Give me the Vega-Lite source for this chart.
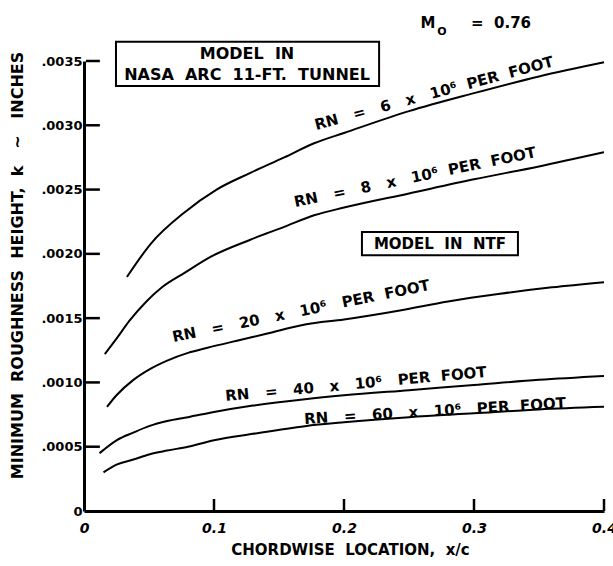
{
  "$schema": "https://vega.github.io/schema/vega-lite/v6.json",
  "width": 520,
  "height": 450,
  "autosize": {"type": "none"},
  "padding": {"left": 84, "top": 61, "right": 9, "bottom": 55},
  "background": "white",
  "config": {
    "view": {"stroke": null},
    "font": "DejaVu Sans",
    "text": {"font": "DejaVu Sans", "fontWeight": "bold", "fontSize": 15, "color": "black"}
  },
  "datasets": {
    "curves": [
      {"rn": "6", "x": 0.033, "k": 0.00182},
      {"rn": "6", "x": 0.0515, "k": 0.00208},
      {"rn": "6", "x": 0.077, "k": 0.00232},
      {"rn": "6", "x": 0.102, "k": 0.0025},
      {"rn": "6", "x": 0.128, "k": 0.00263},
      {"rn": "6", "x": 0.154, "k": 0.00275},
      {"rn": "6", "x": 0.177, "k": 0.00286},
      {"rn": "6", "x": 0.2, "k": 0.00294},
      {"rn": "6", "x": 0.25, "k": 0.00311},
      {"rn": "6", "x": 0.3, "k": 0.00325},
      {"rn": "6", "x": 0.35, "k": 0.00338},
      {"rn": "6", "x": 0.4, "k": 0.00349},
      {"rn": "8", "x": 0.016, "k": 0.00122},
      {"rn": "8", "x": 0.025, "k": 0.00134},
      {"rn": "8", "x": 0.035, "k": 0.00148},
      {"rn": "8", "x": 0.048, "k": 0.00163},
      {"rn": "8", "x": 0.06, "k": 0.00174},
      {"rn": "8", "x": 0.077, "k": 0.00185},
      {"rn": "8", "x": 0.098, "k": 0.00198},
      {"rn": "8", "x": 0.128, "k": 0.00211},
      {"rn": "8", "x": 0.154, "k": 0.00221},
      {"rn": "8", "x": 0.177, "k": 0.0023},
      {"rn": "8", "x": 0.2, "k": 0.00236},
      {"rn": "8", "x": 0.25, "k": 0.00247},
      {"rn": "8", "x": 0.3, "k": 0.00258},
      {"rn": "8", "x": 0.35, "k": 0.00268},
      {"rn": "8", "x": 0.4, "k": 0.00279},
      {"rn": "20", "x": 0.0177, "k": 0.00081},
      {"rn": "20", "x": 0.025, "k": 0.0009},
      {"rn": "20", "x": 0.038, "k": 0.00102},
      {"rn": "20", "x": 0.05, "k": 0.0011},
      {"rn": "20", "x": 0.064, "k": 0.00117},
      {"rn": "20", "x": 0.08, "k": 0.00123},
      {"rn": "20", "x": 0.095, "k": 0.00127},
      {"rn": "20", "x": 0.12, "k": 0.00133},
      {"rn": "20", "x": 0.141, "k": 0.00138},
      {"rn": "20", "x": 0.17, "k": 0.00145},
      {"rn": "20", "x": 0.2, "k": 0.00149},
      {"rn": "20", "x": 0.243, "k": 0.00156},
      {"rn": "20", "x": 0.28, "k": 0.00163},
      {"rn": "20", "x": 0.32, "k": 0.00169},
      {"rn": "20", "x": 0.36, "k": 0.00174},
      {"rn": "20", "x": 0.4, "k": 0.00178},
      {"rn": "40", "x": 0.012, "k": 0.00045},
      {"rn": "40", "x": 0.025, "k": 0.00055},
      {"rn": "40", "x": 0.038, "k": 0.00061},
      {"rn": "40", "x": 0.05, "k": 0.00066},
      {"rn": "40", "x": 0.064, "k": 0.0007},
      {"rn": "40", "x": 0.08, "k": 0.00073},
      {"rn": "40", "x": 0.1, "k": 0.00077},
      {"rn": "40", "x": 0.13, "k": 0.00082},
      {"rn": "40", "x": 0.17, "k": 0.00087},
      {"rn": "40", "x": 0.2, "k": 0.0009},
      {"rn": "40", "x": 0.25, "k": 0.00094},
      {"rn": "40", "x": 0.3, "k": 0.00098},
      {"rn": "40", "x": 0.35, "k": 0.00102},
      {"rn": "40", "x": 0.4, "k": 0.00105},
      {"rn": "60", "x": 0.015, "k": 0.0003},
      {"rn": "60", "x": 0.025, "k": 0.00036},
      {"rn": "60", "x": 0.038, "k": 0.0004},
      {"rn": "60", "x": 0.05, "k": 0.00044},
      {"rn": "60", "x": 0.064, "k": 0.00047},
      {"rn": "60", "x": 0.08, "k": 0.0005},
      {"rn": "60", "x": 0.1, "k": 0.00055},
      {"rn": "60", "x": 0.13, "k": 0.0006},
      {"rn": "60", "x": 0.17, "k": 0.00066},
      {"rn": "60", "x": 0.2, "k": 0.00069},
      {"rn": "60", "x": 0.25, "k": 0.00073},
      {"rn": "60", "x": 0.3, "k": 0.00076},
      {"rn": "60", "x": 0.35, "k": 0.00079},
      {"rn": "60", "x": 0.4, "k": 0.00081}
    ],
    "labels": [
      {"id": "6", "label": "RN\u00a0\u00a0\u00a0=\u00a0\u00a0\u00a06\u00a0\u00a0\u00a0x\u00a0\u00a0\u00a010⁶\u00a0\u00a0PER\u00a0\u00a0FOOT", "x": 0.2692, "k": 0.00325},
      {"id": "8", "label": "RN\u00a0\u00a0\u00a0=\u00a0\u00a0\u00a08\u00a0\u00a0\u00a0x\u00a0\u00a0\u00a010⁶\u00a0\u00a0PER\u00a0\u00a0FOOT", "x": 0.2546, "k": 0.002597},
      {"id": "20", "label": "RN\u00a0\u00a0\u00a0=\u00a0\u00a0\u00a020\u00a0\u00a0\u00a0x\u00a0\u00a0\u00a010⁶\u00a0\u00a0\u00a0PER\u00a0\u00a0FOOT", "x": 0.1669, "k": 0.001555},
      {"id": "40", "label": "RN\u00a0\u00a0\u00a0=\u00a0\u00a0\u00a040\u00a0\u00a0\u00a0x\u00a0\u00a0\u00a010⁶\u00a0\u00a0\u00a0PER\u00a0\u00a0FOOT", "x": 0.2092, "k": 0.000988},
      {"id": "60", "label": "RN\u00a0\u00a0\u00a0=\u00a0\u00a0\u00a060\u00a0\u00a0\u00a0x\u00a0\u00a0\u00a010⁶\u00a0\u00a0\u00a0PER\u00a0\u00a0FOOT", "x": 0.27, "k": 0.000778}
    ],
    "boxes": [
      {"name": "nasa", "x": 0.0246, "x2": 0.227, "k": 0.00365, "k2": 0.003305},
      {"name": "ntf", "x": 0.2138, "x2": 0.3338, "k": 0.00217, "k2": 0.00199}
    ],
    "notes": [
      {"box": "nasa", "text": "MODEL\u00a0\u00a0IN", "x": 0.1254, "k": 0.003554},
      {"box": "nasa", "text": "NASA\u00a0\u00a0ARC\u00a0\u00a011-FT.\u00a0\u00a0TUNNEL", "x": 0.1254, "k": 0.00339},
      {"box": "ntf", "text": "MODEL\u00a0\u00a0IN\u00a0\u00a0NTF", "x": 0.2738, "k": 0.002076}
    ],
    "ticksx": [
      {"x": 0.1, "k": 0},
      {"x": 0.2, "k": 0},
      {"x": 0.3, "k": 0},
      {"x": 0.4, "k": 0}
    ],
    "ticksy": [
      {"x": 0.0015, "k": 0.0005},
      {"x": 0.0015, "k": 0.001},
      {"x": 0.0015, "k": 0.0015},
      {"x": 0.0015, "k": 0.002},
      {"x": 0.0015, "k": 0.0025},
      {"x": 0.0015, "k": 0.003},
      {"x": 0.0015, "k": 0.0035}
    ]
  },
  "encoding": {
    "x": {
      "field": "x",
      "type": "quantitative",
      "scale": {"domain": [0, 0.4], "nice": false, "zero": true},
      "axis": {
        "values": [0, 0.1, 0.2, 0.3, 0.4],
        "labelExpr": "datum.value == 0 ? '0' : format(datum.value, '.1f')",
        "grid": false,
        "domainColor": "black",
        "domainWidth": 3,
        "ticks": false,
        "labelPadding": 10,
        "labelFont": "DejaVu Sans",
        "labelFontWeight": "bold",
        "labelFontStyle": "italic",
        "labelFontSize": 14,
        "labelColor": "black",
        "labelFlush": false,
        "labelOverlap": false,
        "title": "CHORDWISE\u00a0\u00a0LOCATION,\u00a0\u00a0x/c",
        "titleFont": "DejaVu Sans",
        "titleFontWeight": "bold",
        "titleFontSize": 15,
        "titleColor": "black",
        "titleBaseline": "middle",
        "titleX": 266,
        "titleY": 38
      }
    },
    "y": {
      "field": "k",
      "type": "quantitative",
      "scale": {"domain": [0, 0.0035], "nice": false, "zero": true},
      "axis": {
        "values": [0, 0.0005, 0.001, 0.0015, 0.002, 0.0025, 0.003, 0.0035],
        "labelExpr": "datum.value == 0 ? '0' : replace(format(datum.value, '.4f'), '0.', '.')",
        "grid": false,
        "domainColor": "black",
        "domainWidth": 3,
        "ticks": false,
        "labelPadding": 2,
        "labelFont": "DejaVu Sans",
        "labelFontWeight": "bold",
        "labelFontSize": 13,
        "labelColor": "black",
        "labelFlush": false,
        "labelOverlap": false,
        "title": "MINIMUM\u00a0\u00a0ROUGHNESS\u00a0\u00a0HEIGHT,\u00a0\u00a0k\u00a0\u00a0\u00a0~\u00a0\u00a0\u00a0INCHES",
        "titleFont": "DejaVu Sans",
        "titleFontWeight": "bold",
        "titleFontSize": 16,
        "titleColor": "black",
        "titleBaseline": "middle",
        "titleAngle": -90,
        "titleX": -67,
        "titleY": 204
      }
    }
  },
  "layer": [
    {
      "data": {"name": "curves"},
      "mark": {"type": "line", "color": "black", "strokeWidth": 2, "interpolate": "monotone"},
      "encoding": {"detail": {"field": "rn", "type": "nominal"}}
    },
    {
      "data": {"name": "labels"},
      "transform": [{"filter": "datum.id == '6'"}],
      "mark": {"type": "text", "angle": -15, "align": "center", "baseline": "middle"},
      "encoding": {"text": {"field": "label"}}
    },
    {
      "data": {"name": "labels"},
      "transform": [{"filter": "datum.id == '8'"}],
      "mark": {"type": "text", "angle": -11.7, "align": "center", "baseline": "middle"},
      "encoding": {"text": {"field": "label"}}
    },
    {
      "data": {"name": "labels"},
      "transform": [{"filter": "datum.id == '20'"}],
      "mark": {"type": "text", "angle": -11.5, "align": "center", "baseline": "middle"},
      "encoding": {"text": {"field": "label"}}
    },
    {
      "data": {"name": "labels"},
      "transform": [{"filter": "datum.id == '40'"}],
      "mark": {"type": "text", "angle": -5.3, "align": "center", "baseline": "middle"},
      "encoding": {"text": {"field": "label"}}
    },
    {
      "data": {"name": "labels"},
      "transform": [{"filter": "datum.id == '60'"}],
      "mark": {"type": "text", "angle": -3.5, "align": "center", "baseline": "middle"},
      "encoding": {"text": {"field": "label"}}
    },
    {
      "data": {"name": "boxes"},
      "mark": {"type": "rect", "fill": null, "fillOpacity": 0, "stroke": "black", "strokeWidth": 2},
      "encoding": {
        "x2": {"field": "x2"},
        "y2": {"field": "k2"}
      }
    },
    {
      "data": {"name": "notes"},
      "transform": [{"filter": "datum.box == 'nasa'"}],
      "mark": {"type": "text", "align": "center", "baseline": "middle", "fontSize": 16},
      "encoding": {"text": {"field": "text"}}
    },
    {
      "data": {"name": "notes"},
      "transform": [{"filter": "datum.box == 'ntf'"}],
      "mark": {"type": "text", "align": "center", "baseline": "middle", "fontSize": 15},
      "encoding": {"text": {"field": "text"}}
    },
    {
      "data": {"values": [{"text": "M", "x": 0.2646, "k": 0.003795}]},
      "mark": {"type": "text", "align": "center", "baseline": "middle"},
      "encoding": {"text": {"field": "text"}}
    },
    {
      "data": {"values": [{"text": "O", "x": 0.2754, "k": 0.003725}]},
      "mark": {"type": "text", "align": "center", "baseline": "middle", "fontSize": 11},
      "encoding": {"text": {"field": "text"}}
    },
    {
      "data": {"values": [{"text": "=\u00a0\u00a00.76", "x": 0.2977, "k": 0.003795}]},
      "mark": {"type": "text", "align": "left", "baseline": "middle"},
      "encoding": {"text": {"field": "text"}}
    },
    {
      "data": {"name": "ticksx"},
      "mark": {"type": "rule", "stroke": "black", "strokeWidth": 2.5},
      "encoding": {"y2": {"datum": 0.0000933}}
    },
    {
      "data": {"name": "ticksy"},
      "mark": {"type": "rule", "stroke": "black", "strokeWidth": 2.5},
      "encoding": {"x2": {"datum": 0.0122}}
    }
  ]
}
